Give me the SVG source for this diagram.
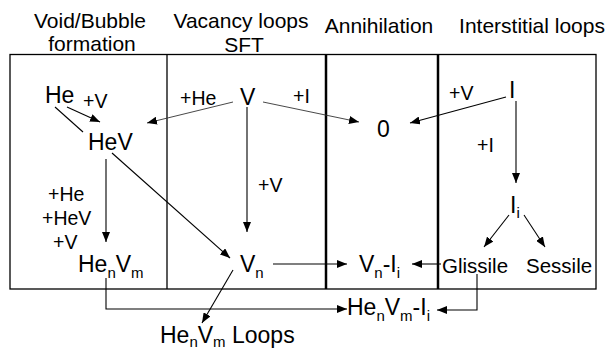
<svg xmlns="http://www.w3.org/2000/svg" width="608" height="351" viewBox="0 0 608 351">
<style>
text{font-family:"Liberation Sans",Arial,sans-serif;fill:#000}
.h{font-size:21px;text-anchor:middle}
.n{font-size:23px}
.l{font-size:19.5px}
.s{font-size:15px}
.c{fill:none;stroke:#000;stroke-width:1.1}
.g{fill:none;stroke:#333;stroke-width:0.9}
</style>
<defs>
<marker id="a" viewBox="0 0 10 8" refX="10" refY="4" markerWidth="10" markerHeight="8" markerUnits="userSpaceOnUse" orient="auto"><path d="M0,0 L10,4 L0,8 Z" fill="#000"/></marker>
</defs>
<g id="frame">
<rect x="10" y="54.5" width="586" height="234.5" fill="none" stroke="#000" stroke-width="1.3"/>
<line x1="167" y1="54.5" x2="167" y2="289" stroke="#000" stroke-width="1.3"/>
<line x1="326" y1="54.5" x2="326" y2="289" stroke="#000" stroke-width="2.5"/>
<line x1="438" y1="54.5" x2="438" y2="289" stroke="#000" stroke-width="2.5"/>
</g>
<g id="headers">
<text class="h" x="90" y="28">Void/Bubble</text>
<text class="h" x="92" y="51">formation</text>
<text class="h" x="241" y="28">Vacancy loops</text>
<text class="h" x="244" y="52">SFT</text>
<text class="h" x="379" y="33">Annihilation</text>
<text class="h" x="532" y="33">Interstitial loops</text>
</g>
<g id="connectors">
<line class="c" x1="67" y1="107" x2="100" y2="122" marker-end="url(#a)"/>
<line class="c" x1="55" y1="107" x2="83" y2="132"/>
<line class="g" x1="233" y1="102" x2="147" y2="123" marker-end="url(#a)"/>
<line class="g" x1="263" y1="102" x2="359" y2="122" marker-end="url(#a)"/>
<line class="c" x1="506" y1="97" x2="410" y2="123" marker-end="url(#a)"/>
<line class="c" x1="516" y1="101" x2="516" y2="183" marker-end="url(#a)"/>
<line class="c" x1="509" y1="215" x2="484" y2="247" marker-end="url(#a)"/>
<line class="c" x1="524" y1="215" x2="545" y2="247" marker-end="url(#a)"/>
<line class="c" x1="106" y1="159" x2="106" y2="242" marker-end="url(#a)"/>
<line class="c" x1="112" y1="153" x2="230" y2="258" marker-end="url(#a)"/>
<line class="c" x1="247" y1="107" x2="247" y2="232" marker-end="url(#a)"/>
<line class="c" x1="273" y1="264" x2="347" y2="264" marker-end="url(#a)"/>
<line class="c" x1="441" y1="264" x2="412" y2="264" marker-end="url(#a)"/>
<polyline class="c" points="106,278 106,309 347,309" marker-end="url(#a)"/>
<polyline class="c" points="477,274 477,310 437,310" marker-end="url(#a)"/>
<line class="c" x1="233" y1="270" x2="202" y2="323" marker-end="url(#a)"/>
</g>
<g id="node-He"><text class="n" x="45" y="103">He</text></g>
<g id="node-HeV"><text class="n" x="88" y="150">HeV</text></g>
<g id="node-V"><text class="n" x="240" y="105">V</text></g>
<g id="node-0"><text class="n" x="377" y="137">0</text></g>
<g id="node-I"><text class="n" x="509" y="98">I</text></g>
<g id="node-Ii"><text class="n" x="510" y="213">I<tspan class="s" dy="5">i</tspan></text></g>
<g id="node-HenVm"><text class="n" x="78" y="272">He<tspan class="s" dy="6">n</tspan><tspan dy="-6">V</tspan><tspan class="s" dy="6">m</tspan></text></g>
<g id="node-Vn"><text class="n" x="240" y="272">V<tspan class="s" dy="6">n</tspan></text></g>
<g id="node-VnIi"><text class="n" x="359" y="272">V<tspan class="s" dy="6">n</tspan><tspan dy="-6">-I</tspan><tspan class="s" dy="6">i</tspan></text></g>
<g id="node-Glissile"><text class="l" x="442" y="273" style="font-size:20.5px">Glissile</text></g>
<g id="node-Sessile"><text class="l" x="526" y="273" style="font-size:20.5px">Sessile</text></g>
<g id="node-HenVmIi"><text class="n" x="347" y="315">He<tspan class="s" dy="6">n</tspan><tspan dy="-6">V</tspan><tspan class="s" dy="6">m</tspan><tspan dy="-6">-I</tspan><tspan class="s" dy="6">i</tspan></text></g>
<g id="node-Loops"><text class="n" x="160" y="343">He<tspan class="s" dy="4">n</tspan><tspan dy="-4">V</tspan><tspan class="s" dy="4">m</tspan><tspan dy="-4"> Loops</tspan></text></g>
<g id="labels">
<text class="l" x="83" y="108">+V</text>
<text class="l" x="180" y="105">+He</text>
<text class="l" x="293" y="103">+I</text>
<text class="l" x="449" y="100">+V</text>
<text class="l" x="477" y="152">+I</text>
<text class="l" x="48" y="201">+He</text>
<text class="l" x="42" y="225">+HeV</text>
<text class="l" x="53" y="249">+V</text>
<text class="l" x="258" y="192">+V</text>
</g>
</svg>
